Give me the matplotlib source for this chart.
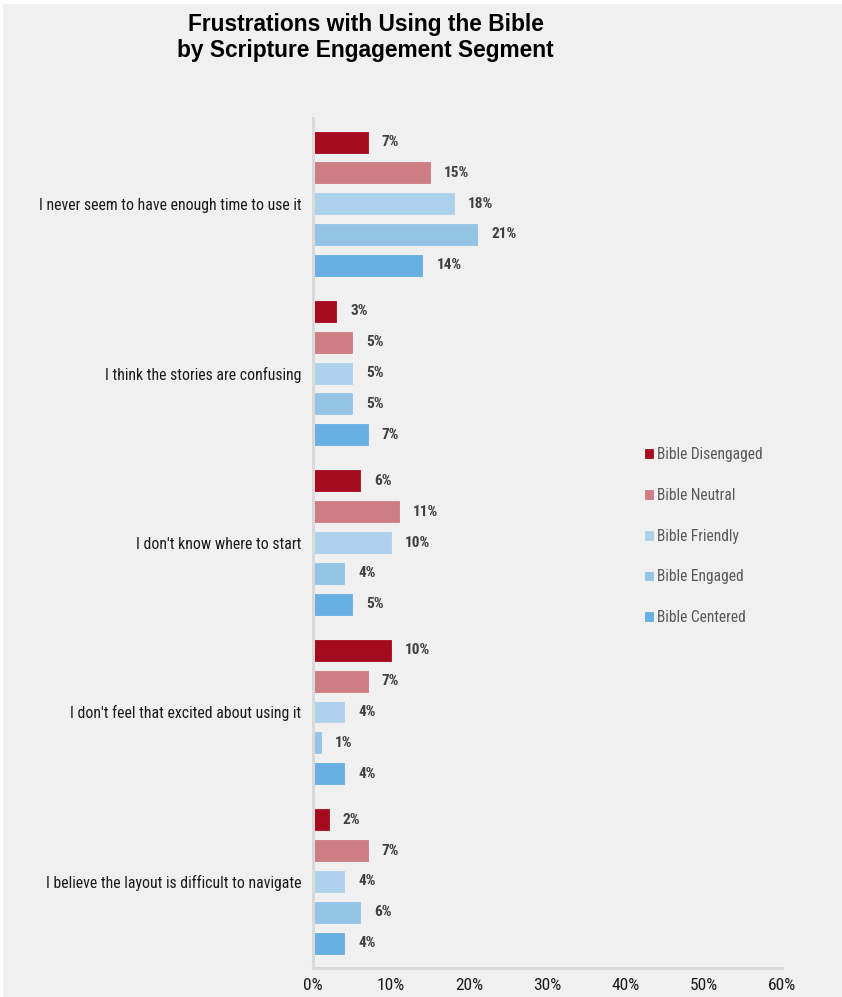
import matplotlib
matplotlib.use("Agg")
import matplotlib.pyplot as plt
from matplotlib import font_manager
from matplotlib.patches import Rectangle
import numpy as np


def pick_family(candidates, weight):
    """First family that has a static face of the requested weight."""
    faces = font_manager.fontManager.ttflist
    for fam in candidates:
        for f in faces:
            if f.name == fam and f.weight == weight and f.style == "normal" and "[" not in f.fname:
                return fam
    for fam in candidates:
        if any(f.name == fam for f in faces):
            return fam
    return "Liberation Sans"


NARROW = pick_family(["Roboto Condensed", "Archivo Narrow", "IBM Plex Sans Condensed",
                      "Liberation Sans Narrow"], 400)
NARROW_BOLD = pick_family(["Roboto Condensed", "IBM Plex Sans Condensed",
                           "Fira Sans Condensed"], 700)

title_lines = ["Frustrations with Using the Bible", "by Scripture Engagement Segment"]
categories = [
    "I never seem to have enough time to use it",
    "I think the stories are confusing",
    "I don't know where to start",
    "I don't feel that excited about using it",
    "I believe the layout is difficult to navigate",
]
segments = ["Bible Disengaged", "Bible Neutral", "Bible Friendly",
            "Bible Engaged", "Bible Centered"]
# percent values per segment, one entry per category
disengaged = [7, 3, 6, 10, 2]
neutral = [15, 5, 11, 7, 7]
friendly = [18, 5, 10, 4, 4]
engaged = [21, 5, 4, 1, 6]
centered = [14, 7, 5, 4, 4]
xticks = [0, 10, 20, 30, 40, 50, 60]

series = [disengaged, neutral, friendly, engaged, centered]
colors = ["#a50b1e", "#cd7d83", "#aed1eb", "#93c4e6", "#68b0e1"]

W, H = 842, 997
fig = plt.figure(figsize=(W / 100, H / 100), dpi=100)
fig.patch.set_facecolor("white")
fig.add_artist(Rectangle((3 / W, 0), 1, 1 - 4 / H, transform=fig.transFigure,
                         facecolor="#f0f0f0", edgecolor="none", zorder=-10))

ax = fig.add_axes([313 / W, 1 - 968 / H, (782 - 313) / W, (968 - 118) / H])
ax.set_facecolor("none")

group_step = 5.5
bar_h = 0.68
for si, (vals, col, name) in enumerate(zip(series, colors, segments)):
    ys = np.arange(len(categories)) * group_step + si
    ax.barh(ys, vals, height=bar_h, color=col, label=name,
            edgecolor=col, linewidth=0.6)
    for y, v in zip(ys, vals):
        ax.annotate(f"{v}%", (v, y), xytext=(10, 0), textcoords="offset points",
                    ha="left", va="center", fontsize=11, fontweight="bold",
                    color="#404040", family=NARROW_BOLD)

ax.set_ylim(4 * group_step + 4 + 0.81, -0.78)
ax.set_xlim(0, 60)
ax.set_xticks(xticks)
ax.set_xticklabels([f"{t}%" for t in xticks], family=NARROW, fontsize=12.5,
                   color="#1a1a1a")
ax.tick_params(axis="x", length=0, pad=7)
ax.set_yticks(np.arange(len(categories)) * group_step + 2)
ax.set_yticklabels(categories, family=NARROW, fontsize=11.3, color="#1a1a1a")
ax.tick_params(axis="y", length=0, pad=8.5)

for s in ["top", "right"]:
    ax.spines[s].set_visible(False)
for s in ["left", "bottom"]:
    ax.spines[s].set_color("#d9d9d9")
    ax.spines[s].set_linewidth(2.2)

leg = ax.legend(loc="upper left", bbox_to_anchor=(645 / W, 1 - 447 / H),
                bbox_transform=fig.transFigure, frameon=False,
                prop={"family": NARROW, "size": 11.2},
                handlelength=0.5, handleheight=0.5, handletextpad=0.25,
                labelspacing=1.66, borderaxespad=0, borderpad=0)
for t in leg.get_texts():
    t.set_color("#595959")

for line, base in zip(title_lines, [31, 57]):
    fig.text(365.5 / W, 1 - base / H, line, ha="center", va="baseline",
             fontsize=16.4, fontweight="bold", family="Liberation Sans",
             color="black")

fig.savefig("out.png", dpi=100, facecolor=fig.get_facecolor())
